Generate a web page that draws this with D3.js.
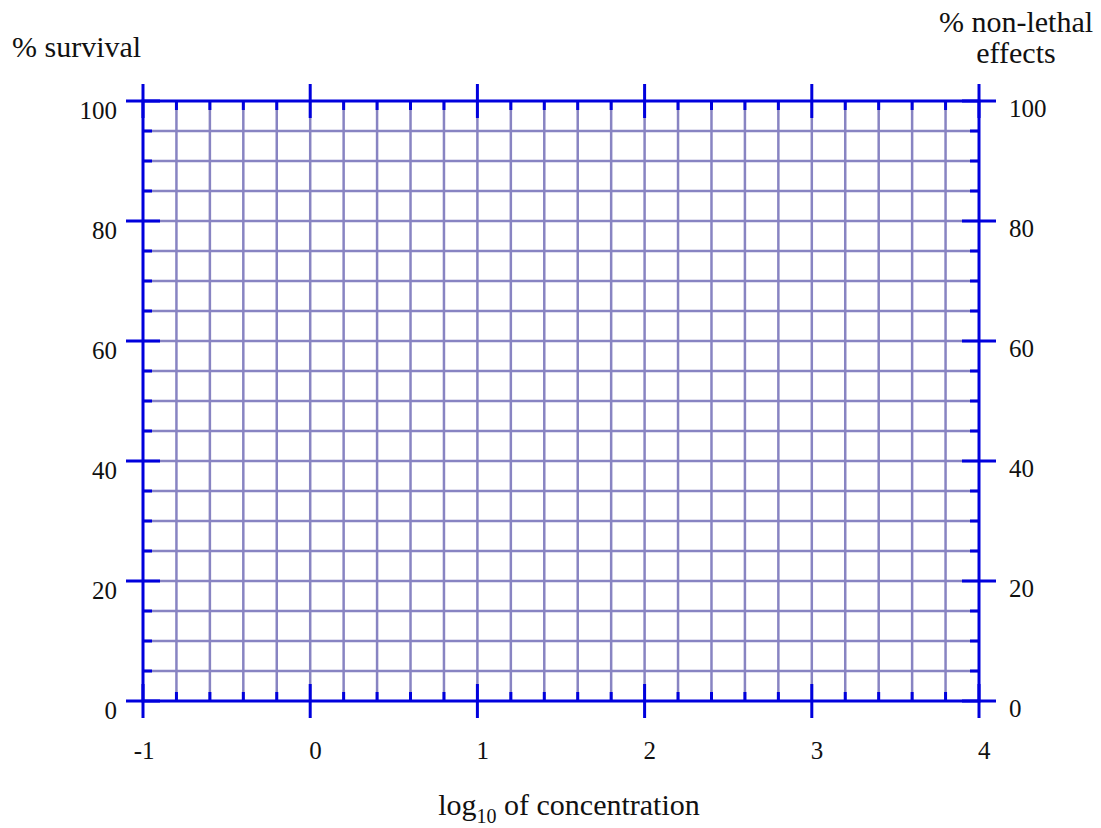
<!DOCTYPE html>
<html>
<head>
<meta charset="utf-8">
<script src="https://cdn.jsdelivr.net/npm/d3@7"></script>
<style>
body{margin:0;background:#fff;}
</style>
</head>
<body>
<div id="chart"></div>
<script>
var xMajor = [-1, 0, 1, 2, 3, 4];
var xMinor = [-0.8, -0.6, -0.4, -0.2, 0.2, 0.4, 0.6, 0.8, 1.2, 1.4, 1.6, 1.8,
              2.2, 2.4, 2.6, 2.8, 3.2, 3.4, 3.6, 3.8];
var yMajor = [0, 20, 40, 60, 80, 100];
var yMinor = [5, 10, 15, 25, 30, 35, 45, 50, 55, 65, 70, 75, 85, 90, 95];
var xLabels = ["-1", "0", "1", "2", "3", "4"];
var yLabels = ["0", "20", "40", "60", "80", "100"];

var W = 1101, H = 828;
var margin = {top:101, bottom:127, left:143, right:122};
var blue = "#0000dd", gridColor = "#8884c2";
var serif = "'Liberation Serif', 'Times New Roman', Times, serif";

var x = d3.scaleLinear().domain([-1,4]).range([margin.left, W - margin.right]);
var y = d3.scaleLinear().domain([0,100]).range([H - margin.bottom, margin.top]);

var svg = d3.select("#chart").append("svg")
    .attr("width", W)
    .attr("height", H)
    .attr("font-family", serif)
    .style("font-family", serif);

// grid lines
var grid = svg.append("g").attr("stroke", gridColor).attr("stroke-width", 2.5);
grid.selectAll("line.vx")
    .data(xMinor.concat(xMajor.slice(1, -1)))
    .enter().append("line")
    .attr("x1", d => x(d)).attr("x2", d => x(d))
    .attr("y1", y(100)).attr("y2", y(0));
grid.selectAll("line.hy")
    .data(yMinor.concat(yMajor.slice(1, -1)))
    .enter().append("line")
    .attr("x1", x(-1)).attr("x2", x(4))
    .attr("y1", d => y(d)).attr("y2", d => y(d));

// frame + ticks
var ax = svg.append("g").attr("stroke", blue).attr("stroke-width", 3).attr("fill", "none");
ax.append("rect")
    .attr("x", x(-1)).attr("y", y(100))
    .attr("width", x(4) - x(-1)).attr("height", y(0) - y(100));

var minor = 9, major = 17;
// minor ticks, inward on all four sides
ax.selectAll("line.mb").data(xMinor).enter().append("line")
    .attr("x1", d => x(d)).attr("x2", d => x(d))
    .attr("y1", y(0)).attr("y2", y(0) - minor);
ax.selectAll("line.mt").data(xMinor).enter().append("line")
    .attr("x1", d => x(d)).attr("x2", d => x(d))
    .attr("y1", y(100)).attr("y2", y(100) + minor);
ax.selectAll("line.ml").data(yMinor).enter().append("line")
    .attr("x1", x(-1)).attr("x2", x(-1) + minor)
    .attr("y1", d => y(d)).attr("y2", d => y(d));
ax.selectAll("line.mr").data(yMinor).enter().append("line")
    .attr("x1", x(4)).attr("x2", x(4) - minor)
    .attr("y1", d => y(d)).attr("y2", d => y(d));

// major ticks, crossing the frame
ax.selectAll("line.Jb").data(xMajor).enter().append("line")
    .attr("x1", d => x(d)).attr("x2", d => x(d))
    .attr("y1", y(0) - major).attr("y2", y(0) + major);
ax.selectAll("line.Jt").data(xMajor).enter().append("line")
    .attr("x1", d => x(d)).attr("x2", d => x(d))
    .attr("y1", y(100) - major).attr("y2", y(100) + major);
ax.selectAll("line.Jl").data(yMajor).enter().append("line")
    .attr("x1", x(-1) - major).attr("x2", x(-1) + major)
    .attr("y1", d => y(d)).attr("y2", d => y(d));
ax.selectAll("line.Jr").data(yMajor).enter().append("line")
    .attr("x1", x(4) - major).attr("x2", x(4) + major)
    .attr("y1", d => y(d)).attr("y2", d => y(d));

// tick labels
var txt = svg.append("g").attr("fill", "#111");
txt.selectAll("text.xl").data(xMajor).enter().append("text")
    .attr("x", d => x(d) + 11.5)
    .attr("y", y(0) + 58)
    .attr("text-anchor", "end")
    .style("font-size", "25px")
    .text((d, i) => xLabels[i]);
txt.selectAll("text.yl").data(yMajor).enter().append("text")
    .attr("x", x(-1) - 26)
    .attr("y", d => y(d) + 18)
    .attr("text-anchor", "end")
    .style("font-size", "25px")
    .text((d, i) => yLabels[i]);
txt.selectAll("text.yr").data(yMajor).enter().append("text")
    .attr("x", x(4) + 30)
    .attr("y", d => y(d) + 16)
    .attr("text-anchor", "start")
    .style("font-size", "25px")
    .text((d, i) => yLabels[i]);

// axis titles
txt.append("text")
    .attr("x", 12).attr("y", 57)
    .style("font-size", "30px")
    .text("% survival");
var rt = txt.append("text")
    .attr("text-anchor", "middle")
    .style("font-size", "30px");
rt.append("tspan").attr("x", 1016).attr("y", 32).text("% non-lethal");
rt.append("tspan").attr("x", 1016).attr("y", 63).text("effects");

var xt = txt.append("text")
    .attr("x", 569).attr("y", 815)
    .attr("text-anchor", "middle")
    .style("font-size", "30px");
xt.append("tspan").text("log");
xt.append("tspan").attr("dy", 8).style("font-size", "20px").text("10");
xt.append("tspan").attr("dy", -8).text(" of concentration");
</script>
</body>
</html>
